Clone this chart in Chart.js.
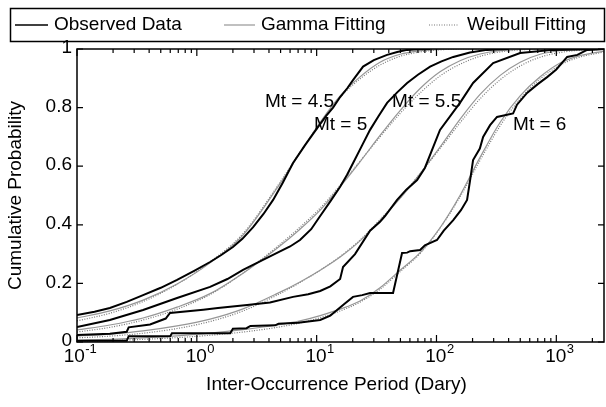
<!DOCTYPE html>
<html>
<head>
<meta charset="utf-8">
<script src="https://cdn.jsdelivr.net/npm/chart.js@4/dist/chart.umd.min.js"></script>
<style>
  html, body { margin: 0; padding: 0; background: #fff; }
  #wrap { width: 606px; height: 407px; }
</style>
</head>
<body>
<div id="wrap"><canvas id="cdf"></canvas></div>
<script>
'use strict';

// x grid shared by the fitted curves (days)
const fitX = [0.1, 0.188, 0.356, 0.684, 1.29, 2.43, 4.67, 7.26, 10.7, 15.7, 23, 33.8, 49.7, 73, 107, 157, 231, 340, 499, 733, 1076, 1500, 2500];

const gamma45   = [0.082, 0.106, 0.143, 0.198, 0.27, 0.365, 0.525, 0.645, 0.75, 0.84, 0.905, 0.955, 0.982, 0.994, 0.999, 1, 1, 1, 1, 1, 1, 1, 1];
const weibull45 = [0.072, 0.098, 0.138, 0.197, 0.273, 0.37, 0.53, 0.648, 0.748, 0.835, 0.898, 0.945, 0.975, 0.99, 0.997, 1, 1, 1, 1, 1, 1, 1, 1];
const gamma5    = [0.041, 0.058, 0.082, 0.119, 0.165, 0.235, 0.32, 0.385, 0.45, 0.53, 0.615, 0.705, 0.79, 0.865, 0.922, 0.96, 0.983, 0.994, 0.999, 1, 1, 1, 1];
const weibull5  = [0.034, 0.05, 0.075, 0.112, 0.162, 0.235, 0.325, 0.392, 0.457, 0.535, 0.617, 0.70, 0.78, 0.85, 0.908, 0.948, 0.975, 0.99, 0.997, 1, 1, 1, 1];
const gamma55   = [0.02, 0.027, 0.038, 0.055, 0.078, 0.113, 0.165, 0.205, 0.245, 0.29, 0.345, 0.415, 0.49, 0.575, 0.665, 0.76, 0.845, 0.91, 0.955, 0.982, 0.994, 0.998, 1];
const weibull55 = [0.014, 0.02, 0.03, 0.046, 0.07, 0.106, 0.16, 0.203, 0.245, 0.292, 0.348, 0.418, 0.492, 0.575, 0.66, 0.748, 0.83, 0.895, 0.942, 0.972, 0.988, 0.995, 0.999];
const gamma6    = [0.006, 0.009, 0.014, 0.021, 0.03, 0.042, 0.058, 0.072, 0.09, 0.112, 0.14, 0.185, 0.245, 0.305, 0.39, 0.50, 0.63, 0.75, 0.84, 0.905, 0.952, 0.975, 0.993];
const weibull6  = [0.003, 0.005, 0.009, 0.015, 0.023, 0.034, 0.05, 0.065, 0.083, 0.106, 0.136, 0.18, 0.24, 0.302, 0.388, 0.495, 0.62, 0.738, 0.83, 0.898, 0.945, 0.97, 0.99];

// observed empirical CDFs (x in days, y probability)
const obs45X = [0.1, 0.14, 0.188, 0.26, 0.356, 0.5, 0.684, 0.95, 1.29, 1.6, 2.0, 2.4, 2.95, 3.6, 4.33, 5.2, 6.35, 8.0, 10.1, 12, 13.7, 15.7, 18, 20.1, 24.4, 30, 38.7, 47, 56.9, 70, 88.5];
const obs45Y = [0.092, 0.103, 0.116, 0.137, 0.16, 0.185, 0.212, 0.243, 0.273, 0.297, 0.324, 0.352, 0.392, 0.437, 0.485, 0.543, 0.611, 0.672, 0.73, 0.772, 0.80, 0.836, 0.866, 0.894, 0.94, 0.962, 0.98, 0.99, 0.997, 0.999, 1];
const obs5X = [0.1, 0.188, 0.356, 0.684, 1.29, 1.8, 2.43, 3.4, 4.67, 6, 7.26, 9, 10.7, 13, 15.7, 17.9, 20.1, 24, 27.9, 33, 38.7, 47, 56.9, 70, 88.5, 110, 138, 190, 264, 400];
const obs5Y = [0.051, 0.075, 0.109, 0.15, 0.188, 0.215, 0.246, 0.276, 0.304, 0.326, 0.348, 0.385, 0.43, 0.48, 0.53, 0.57, 0.61, 0.672, 0.724, 0.772, 0.816, 0.852, 0.884, 0.912, 0.94, 0.958, 0.973, 0.988, 0.997, 1];
const obs55X = [0.1, 0.188, 0.26, 0.27, 0.407, 0.55, 0.597, 1.13, 1.5, 2.63, 4.08, 6.35, 8.5, 10.7, 13, 15.7, 16.6, 20.9, 27.9, 33.8, 37.2, 46.9, 56, 68.9, 80, 107, 157, 202, 297, 499, 940, 2500];
const obs55Y = [0.024, 0.028, 0.035, 0.05, 0.06, 0.08, 0.099, 0.11, 0.116, 0.126, 0.135, 0.154, 0.163, 0.174, 0.19, 0.215, 0.256, 0.30, 0.38, 0.41, 0.43, 0.485, 0.52, 0.553, 0.594, 0.724, 0.816, 0.884, 0.952, 0.986, 0.997, 1];
const obs6X = [0.1, 0.26, 0.27, 0.6, 0.62, 1.9, 2.0, 2.6, 2.8, 4.5, 4.8, 7, 10.7, 13, 14.8, 17, 20.1, 24, 27.9, 43.4, 51.6, 56.9, 60.3, 73, 80, 101, 115, 138, 160, 180, 191, 202, 230, 245, 280, 320, 436, 470, 570, 700, 838, 1000, 1232, 1500, 1806, 2500];
const obs6Y = [0.004, 0.004, 0.02, 0.02, 0.03, 0.03, 0.045, 0.047, 0.055, 0.057, 0.062, 0.066, 0.075, 0.09, 0.109, 0.13, 0.154, 0.16, 0.167, 0.167, 0.304, 0.305, 0.31, 0.314, 0.33, 0.348, 0.38, 0.416, 0.45, 0.485, 0.553, 0.621, 0.66, 0.70, 0.74, 0.768, 0.78, 0.81, 0.85, 0.88, 0.904, 0.93, 0.973, 0.98, 0.997, 1];

const yTicks = [0, 0.2, 0.4, 0.6, 0.8, 1];
const yTickLabels = ['0', '0.2', '0.4', '0.6', '0.8', '1'];
const xDecades = [0.1, 1, 10, 100, 1000];
const xDecadeExp = ['-1', '0', '1', '2', '3'];

const notes = [
    { text: 'Mt = 4.5', x: 3.7, y: 0.819 },
    { text: 'Mt = 5', x: 9.5, y: 0.741 },
    { text: 'Mt = 5.5', x: 42.6, y: 0.819 },
    { text: 'Mt = 6', x: 436, y: 0.741 },
];

const FONT = '"Liberation Sans", Arial, sans-serif';
const GAMMA_COLOR = '#969696';
const WEIBULL_COLOR = '#777777';

function pts(xs, ys) { return xs.map((x, i) => ({ x, y: ys[i] })); }

function observed(xs, ys) {
    return { data: pts(xs, ys), borderColor: '#000', borderWidth: 2, tension: 0, pointRadius: 0, order: 0 };
}
function gammaFit(ys) {
    return { data: pts(fitX, ys), borderColor: GAMMA_COLOR, borderWidth: 1.2, cubicInterpolationMode: 'monotone', pointRadius: 0, order: 1 };
}
function weibullFit(ys) {
    return { data: pts(fitX, ys), borderColor: WEIBULL_COLOR, borderWidth: 1.2, borderDash: [1, 1.5], cubicInterpolationMode: 'monotone', pointRadius: 0, order: 2 };
}

const frame = {
    id: 'frame',
    afterDraw(chart) {
        const ctx = chart.ctx;
        const a = chart.chartArea;
        const xs = chart.scales.x, ys = chart.scales.y;
        ctx.save();
        ctx.strokeStyle = '#000';
        ctx.fillStyle = '#000';

        // box
        ctx.lineWidth = 1.5;
        ctx.strokeRect(a.left, a.top, a.right - a.left, a.bottom - a.top);

        // x ticks, inward, top and bottom
        ctx.lineWidth = 1.2;
        ctx.beginPath();
        xDecades.forEach((d) => {
            for (let m = 1; m <= 9; m++) {
                const v = d * m;
                if (v > xs.max) break;
                const px = xs.getPixelForValue(v);
                const len = m === 1 ? 7 : 4;
                ctx.moveTo(px, a.bottom); ctx.lineTo(px, a.bottom - len);
                ctx.moveTo(px, a.top); ctx.lineTo(px, a.top + len);
            }
        });
        // y ticks, inward, left and right
        yTicks.forEach((v) => {
            const py = ys.getPixelForValue(v);
            ctx.moveTo(a.left, py); ctx.lineTo(a.left + 6, py);
            ctx.moveTo(a.right, py); ctx.lineTo(a.right - 6, py);
        });
        ctx.stroke();

        // y tick labels
        ctx.font = '19px ' + FONT;
        ctx.textAlign = 'right';
        ctx.textBaseline = 'middle';
        yTicks.forEach((v, i) => {
            ctx.fillText(yTickLabels[i], a.left - 5, ys.getPixelForValue(v) - 1);
        });

        // x tick labels 10^n
        xDecades.forEach((d, i) => {
            ctx.font = '19px ' + FONT;
            const base = ctx.measureText('10').width;
            ctx.font = '13px ' + FONT;
            const sup = ctx.measureText(xDecadeExp[i]).width;
            const cx = xs.getPixelForValue(d) + 3;
            const left = cx - (base + sup) / 2;
            ctx.textAlign = 'left';
            ctx.font = '19px ' + FONT;
            ctx.fillText('10', left, a.bottom + 15);
            ctx.font = '13px ' + FONT;
            ctx.fillText(xDecadeExp[i], left + base + 0.5, a.bottom + 7);
        });

        // axis titles
        ctx.font = '19px ' + FONT;
        ctx.textAlign = 'center';
        ctx.fillText('Inter-Occurrence Period (Dary)', (a.left + a.right) / 2 - 4, 385);
        ctx.save();
        ctx.translate(16, (a.top + a.bottom) / 2);
        ctx.rotate(-Math.PI / 2);
        ctx.fillText('Cumulative Probability', 0, 0);
        ctx.restore();

        // curve labels
        ctx.textAlign = 'left';
        notes.forEach((n) => {
            ctx.fillText(n.text, xs.getPixelForValue(n.x), ys.getPixelForValue(n.y));
        });

        // legend
        ctx.lineWidth = 1.5;
        ctx.strokeRect(10.5, 8.5, 594, 33);
        const ly = 25;
        ctx.strokeStyle = '#000';
        ctx.beginPath(); ctx.moveTo(15, ly); ctx.lineTo(48, ly); ctx.stroke();
        ctx.strokeStyle = GAMMA_COLOR;
        ctx.lineWidth = 1.2;
        ctx.beginPath(); ctx.moveTo(224, ly); ctx.lineTo(255, ly); ctx.stroke();
        ctx.strokeStyle = WEIBULL_COLOR;
        ctx.setLineDash([1, 1.5]);
        ctx.beginPath(); ctx.moveTo(429, ly); ctx.lineTo(459, ly); ctx.stroke();
        ctx.setLineDash([]);
        ctx.fillText('Observed Data', 54, ly);
        ctx.fillText('Gamma Fitting', 261, ly);
        ctx.fillText('Weibull Fitting', 467, ly);

        ctx.restore();
    },
};

new Chart(document.getElementById('cdf'), {
    type: 'line',
    data: {
        datasets: [
            observed(obs45X, obs45Y), gammaFit(gamma45), weibullFit(weibull45),
            observed(obs5X, obs5Y), gammaFit(gamma5), weibullFit(weibull5),
            observed(obs55X, obs55Y), gammaFit(gamma55), weibullFit(weibull55),
            observed(obs6X, obs6Y), gammaFit(gamma6), weibullFit(weibull6),
        ],
    },
    options: {
        responsive: true,
        maintainAspectRatio: false,
        animation: false,
        layout: { padding: { top: 49, right: 2, left: 0, bottom: 0 } },
        plugins: { legend: { display: false }, tooltip: { enabled: false } },
        scales: {
            x: {
                type: 'logarithmic', min: 0.1, max: 2500,
                ticks: { display: false }, grid: { display: false }, border: { display: false },
                afterFit: (s) => { s.height = 65; },
            },
            y: {
                type: 'linear', min: 0, max: 1,
                ticks: { display: false }, grid: { display: false }, border: { display: false },
                afterFit: (s) => { s.width = 77; },
            },
        },
    },
    plugins: [frame],
});
</script>
</body>
</html>
